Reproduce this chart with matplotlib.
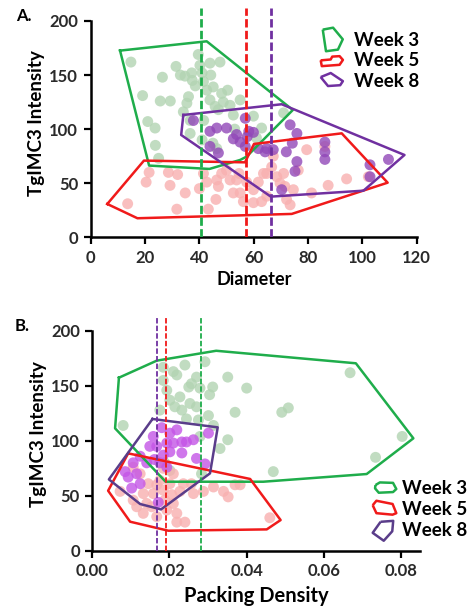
# TgIMC3 intensity vs diameter / packing density, weeks 3, 5 and 8
import matplotlib.pyplot as plt
from matplotlib.lines import Line2D

plt.rcParams['font.family'] = ['Lato', 'DejaVu Sans']

weeks = ["Week 3", "Week 5", "Week 8"]
line_colors = ["#1fad4b", "#f01a1a", "#7030a0"]
line_colors_b = ["#1fad4b", "#f01a1a", "#5a3d8a"]
dot_colors = ["#b2d4b2", "#f8b0b0", "#9148b8"]
dot_colors_b = ["#b2d4b2", "#f8b0b0", "#c455e6"]

# ---- Panel A data: diameter vs intensity ----
a_w3_x = [14.8, 19.1, 21, 23.7, 23.8, 25, 26.4, 25.6, 29.3, 31.4, 34.7, 35.4, 34.1, 37.2, 37.4,
          36.6, 36.6, 39.6, 40.2, 41, 41.5, 42.7, 43.9, 44.2, 45.1, 43.9, 45.8, 47.6, 48.2, 48.8,
          50.4, 51.3, 55, 52.5, 59.9, 62.9, 61, 71, 41.6, 41, 45, 46.4, 38.5, 33, 47, 53, 36]
a_w3_y = [162, 131, 107, 101, 85, 73, 148, 126, 126, 158, 149, 124, 116, 152, 145,
          108, 96, 169, 159, 152, 144, 136, 161, 150, 139, 127, 121, 162, 133, 125,
          136, 122, 127, 113, 112, 101, 92, 115, 108, 90, 87, 82, 140, 150, 118, 100, 130]
a_w5_x = [13.6, 20.4, 21.5, 28.6, 29.2, 32, 31.7, 34.8, 40, 41.5, 43.3, 42.7, 46.1, 46.4, 47,
          48.2, 51.3, 53.7, 54.6, 57.4, 59.9, 55, 56.2, 59.9, 62.9, 64.8, 64.8, 66.6, 67.2, 68.5,
          69.7, 71, 71.5, 72.1, 73.4, 74.6, 76.4, 79.5, 81.3, 86.2, 87.4, 94.2, 102.2, 63.6, 61.7,
          52.5, 50]
a_w5_y = [31, 51, 60, 60, 48, 58, 26, 41, 45, 59, 26, 51, 35, 53, 47,
          59, 53, 53, 59, 51, 44, 41, 33, 32, 33, 38, 59, 65, 75, 56,
          50, 59, 47, 35, 30, 44, 62, 81, 41, 84, 48, 54, 56, 59, 51,
          41, 62]
a_w8_x = [37.8, 43.9, 46.4, 50, 52.5, 55, 53.7, 56.9, 58.2, 57.6, 59.9, 56.9, 61.7, 64.2, 67.2,
          72, 73.4, 75.9, 74.2, 75.9, 75.2, 86.2, 86.2, 86.2, 102.8, 102.8, 109.6, 70.3, 64.8, 43.9,
          47]
a_w8_y = [108, 98, 101, 101, 91, 88, 95, 110, 98, 93, 97, 84, 82, 79, 81,
          79, 104, 96, 87, 70, 61, 88, 79, 72, 67, 56, 72, 44, 82, 84,
          78]

a_hull_w3 = [(10.8, 172.6), (42.7, 181.2), (74.4, 117.7), (57.4, 74.6), (55, 71.5),
             (43.7, 63.2), (21.5, 66.3)]
a_hull_w5 = [(6.1, 30.8), (19.6, 70.9), (56.8, 69.3), (60.1, 86.3), (92.4, 96.1),
             (109.3, 50.5), (74, 21.6), (17.2, 17.6)]
a_hull_w8 = [(34.1, 113.1), (70.3, 123.0), (115.5, 76.1), (100.4, 43.1), (66.3, 37.6),
             (33.3, 94.6)]
a_means = [40.6, 57.1, 66.4]

# ---- Panel B data: packing density vs intensity ----
b_w3_x = [0.0080, 0.0184, 0.0210, 0.0219, 0.0240, 0.0292, 0.0270, 0.0257, 0.0250, 0.0279,
          0.0312, 0.0304, 0.0351, 0.0400, 0.0193, 0.0201, 0.0227, 0.0253, 0.0232, 0.0214,
          0.0270, 0.0175, 0.0244, 0.0275, 0.0301, 0.0314, 0.0370, 0.0491, 0.0508, 0.0668,
          0.0803, 0.0734, 0.0469, 0.0351, 0.0331, 0.0283, 0.0201, 0.0188, 0.0184, 0.0279]
b_w3_y = [114, 167, 163, 160, 169, 172, 158, 152, 149, 148,
          149, 142, 158, 148, 146, 137, 140, 134, 128, 131,
          131, 128, 120, 119, 123, 114, 126, 126, 130, 162,
          104, 85, 72, 101, 93, 70, 73, 80, 155, 104]
b_w5_x = [0.0072, 0.0106, 0.0115, 0.0132, 0.0141, 0.0154, 0.0158, 0.0167, 0.0175, 0.0184,
          0.0188, 0.0193, 0.0201, 0.0206, 0.0210, 0.0219, 0.0219, 0.0240, 0.0227, 0.0257,
          0.0262, 0.0288, 0.0314, 0.0340, 0.0352, 0.0370, 0.0383, 0.0460, 0.0236, 0.0145,
          0.0132, 0.0167, 0.0184, 0.0106, 0.0124, 0.0210]
b_w5_y = [54, 46, 40, 34, 43, 40, 52, 60, 64, 55,
          46, 37, 61, 51, 43, 34, 26, 26, 54, 61,
          52, 54, 58, 54, 49, 60, 60, 30, 61, 61,
          52, 31, 75, 76, 70, 70]
b_w8_x = [0.0180, 0.0219, 0.0158, 0.0149, 0.0167, 0.0193, 0.0210, 0.0232, 0.0244, 0.0262,
          0.0301, 0.0201, 0.0184, 0.0232, 0.0270, 0.0292, 0.0161, 0.0175, 0.0193, 0.0124,
          0.0106, 0.0085, 0.0115, 0.0093, 0.0102, 0.0124, 0.0171, 0.0141, 0.0201]
b_w8_y = [112, 110, 104, 95, 95, 98, 98, 99, 99, 101,
          107, 90, 87, 89, 84, 79, 83, 80, 76, 86,
          80, 72, 70, 67, 57, 61, 44, 80, 107]

b_hull_w3 = [(0.0069, 157.5), (0.0167, 173), (0.0321, 182), (0.0683, 170.6), (0.0832, 102.3),
             (0.0711, 69.8), (0.0443, 62.8), (0.0190, 62.8), (0.0059, 111.4)]
b_hull_w5 = [(0.0093, 88.6), (0.0409, 65.3), (0.0488, 27.9), (0.0452, 19.4), (0.0197, 18.2),
             (0.0098, 26.4), (0.0041, 54.6)]
b_hull_w8 = [(0.0156, 119.9), (0.0325, 112.3), (0.0305, 70.4), (0.0178, 37.6), (0.0124, 42.5),
             (0.0043, 64.9)]
b_means = [0.0282, 0.0190, 0.01685]

# little polygon shapes used as legend icons
icons_a = [[(68, -28), (100, -22), (130, -58), (115, -90), (78, -95)],
           [(40, -132), (85, -128), (92, -115), (125, -113), (140, -130), (125, -152), (45, -158)],
           [(58, -185), (95, -170), (140, -200), (130, -215), (85, -218)]]
icons_b = [[(40, -60), (60, -48), (120, -50), (135, -78), (120, -92), (55, -95), (38, -75)],
           [(40, -140), (55, -122), (120, -135), (135, -172), (120, -178), (55, -172)],
           [(65, -195), (105, -192), (102, -225), (75, -255), (40, -230)]]


def centered(pts):
    cx = sum(p[0] for p in pts) / len(pts)
    cy = sum(p[1] for p in pts) / len(pts)
    out = [(p[0] - cx, p[1] - cy) for p in pts]
    return out + [out[0]]


def closed(pts):
    xs = [p[0] for p in pts] + [pts[0][0]]
    ys = [p[1] for p in pts] + [pts[0][1]]
    return xs, ys


def style_axes(ax, xticks, xlabels, xlabel, xlabel_size, xpad):
    ax.spines['top'].set_visible(False)
    ax.spines['right'].set_visible(False)
    ax.spines['left'].set_linewidth(1.8)
    ax.spines['bottom'].set_linewidth(1.8)
    ax.spines['left'].set_bounds(0, 200)
    ax.set_ylim(0, 212)
    ax.set_yticks([0, 50, 100, 150, 200])
    ax.set_xticks(xticks)
    ax.set_xticklabels(xlabels)
    ax.tick_params(width=1.6, length=5, labelsize=12, colors="black", pad=4)
    for lab in ax.get_xticklabels() + ax.get_yticklabels():
        lab.set_fontweight("bold")
        lab.set_color("#2a2a2a")
    ax.set_xlabel(xlabel, fontsize=xlabel_size, fontweight="bold", labelpad=xpad)
    ax.set_ylabel("TgIMC3 Intensity", fontsize=13.5, fontweight="bold", labelpad=3)


fig = plt.figure(figsize=(4.69, 6.10), dpi=100)

# Panel A
ax1 = fig.add_axes([0.1934, 0.6110, 0.6951, 0.3759])
ax1.set_xlim(0, 120)
for xs, ys, c in zip([a_w3_x, a_w5_x, a_w8_x], [a_w3_y, a_w5_y, a_w8_y], dot_colors):
    ax1.scatter(xs, ys, s=62, color=c, alpha=0.8, edgecolors="none", zorder=2)
for hull, c in zip([a_hull_w3, a_hull_w5, a_hull_w8], line_colors):
    hx, hy = closed(hull)
    ax1.plot(hx, hy, color=c, lw=1.8, zorder=3)
for m, c in zip(a_means, line_colors):
    ax1.plot([m, m], [0, 212], color=c, lw=2, ls=(0, (3, 1.2)), zorder=4)
style_axes(ax1, [0, 20, 40, 60, 80, 100, 120], ["0", "20", "40", "60", "80", "100", "120"],
           "Diameter", 13, 4)
handles = [Line2D([], [], ls="None", marker=centered(ic), markersize=17, markerfacecolor="none",
                  markeredgecolor=c, markeredgewidth=1.8) for ic, c in zip(icons_a, line_colors)]
ax1.legend(handles, weeks, loc="upper left", bbox_to_anchor=(0.68, 0.93), frameon=False,
           prop={"weight": "bold", "size": 13.5}, handletextpad=0.5, labelspacing=0.2,
           handlelength=1.3, borderaxespad=0.0)
fig.text(0.034, 0.965, "A.", fontsize=12, fontweight="bold")

# Panel B
ax2 = fig.add_axes([0.1968, 0.0972, 0.6994, 0.3818])
ax2.set_xlim(0, 0.085)
for xs, ys, c in zip([b_w3_x, b_w5_x, b_w8_x], [b_w3_y, b_w5_y, b_w8_y], dot_colors_b):
    ax2.scatter(xs, ys, s=62, color=c, alpha=0.8, edgecolors="none", zorder=2)
for hull, c in zip([b_hull_w3, b_hull_w5, b_hull_w8], line_colors_b):
    hx, hy = closed(hull)
    ax2.plot(hx, hy, color=c, lw=1.8, zorder=3)
for m, c in zip(b_means, ["#1fad4b", "#f01a1a", "#7030a0"]):
    ax2.plot([m, m], [0, 212], color=c, lw=1.3, ls=(0, (3, 1.2)), zorder=4)
style_axes(ax2, [0, 0.02, 0.04, 0.06, 0.08], ["0.00", "0.02", "0.04", "0.06", "0.08"],
           "Packing Density", 14.5, 5)
handles = [Line2D([], [], ls="None", marker=centered(ic), markersize=17, markerfacecolor="none",
                  markeredgecolor=c, markeredgewidth=1.8) for ic, c in zip(icons_b, line_colors_b)]
ax2.legend(handles, weeks, loc="lower left", bbox_to_anchor=(0.83, 0.02), frameon=False,
           prop={"weight": "bold", "size": 13.5}, handletextpad=0.3, labelspacing=0.2,
           handlelength=1.3, borderaxespad=0.0)
fig.text(0.032, 0.458, "B.", fontsize=12, fontweight="bold")

fig.savefig("out.png", dpi=100)
